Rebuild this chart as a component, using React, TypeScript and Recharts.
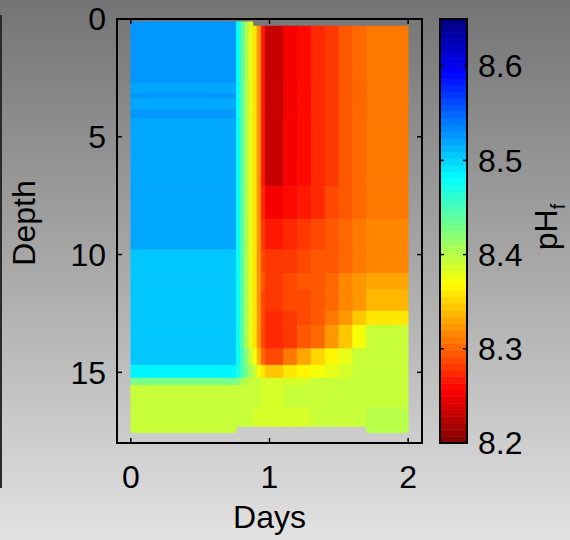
import { ComposedChart, XAxis, YAxis, ReferenceArea, ReferenceLine, Label } from 'recharts'

// cell edges of the pcolor grid
const DAY_EDGES = [0, 0.76, 0.79, 0.82, 0.85, 0.88, 0.91, 0.94, 0.97, 1.1, 1.2, 1.3, 1.4, 1.5, 1.6, 1.7, 2.0]
const DEPTH_EDGES = [
  0.12, 0.3, 2.73, 3.16, 3.37, 3.87, 4.22, 7.1, 8.5, 9.8, 10.8, 11.5, 12.4, 13.0, 14.0, 14.7, 15.25, 15.55,
  16.5, 17.3, 17.56,
]

// pH per cell, one row per depth band (null = no data)
const PH_GRID: (number | null)[][] = [
  [8.527, 8.475, 8.44, 8.41, 8.38, null, null, null, null, null, null, null, null, null, null, null],
  [8.527, 8.475, 8.44, 8.41, 8.38, 8.36, 8.32, 8.27, 8.235, 8.25, 8.262, 8.273, 8.283, 8.295, 8.305, 8.312],
  [8.52, 8.475, 8.44, 8.41, 8.38, 8.36, 8.32, 8.27, 8.235, 8.25, 8.262, 8.273, 8.283, 8.295, 8.305, 8.312],
  [8.527, 8.475, 8.44, 8.41, 8.38, 8.36, 8.32, 8.27, 8.235, 8.25, 8.262, 8.273, 8.283, 8.295, 8.305, 8.312],
  [8.52, 8.475, 8.44, 8.41, 8.38, 8.36, 8.32, 8.27, 8.235, 8.25, 8.262, 8.273, 8.283, 8.295, 8.305, 8.312],
  [8.527, 8.475, 8.44, 8.41, 8.38, 8.36, 8.32, 8.27, 8.235, 8.25, 8.262, 8.273, 8.283, 8.295, 8.305, 8.312],
  [8.518, 8.475, 8.44, 8.41, 8.38, 8.36, 8.32, 8.27, 8.235, 8.25, 8.262, 8.273, 8.283, 8.295, 8.305, 8.312],
  [8.518, 8.475, 8.44, 8.41, 8.38, 8.36, 8.32, 8.275, 8.25, 8.258, 8.265, 8.275, 8.285, 8.295, 8.305, 8.312],
  [8.518, 8.475, 8.44, 8.41, 8.38, 8.36, 8.32, 8.28, 8.268, 8.273, 8.279, 8.285, 8.292, 8.3, 8.307, 8.313],
  [8.507, 8.475, 8.44, 8.41, 8.38, 8.36, 8.325, 8.29, 8.278, 8.282, 8.287, 8.292, 8.297, 8.303, 8.31, 8.315],
  [8.507, 8.475, 8.44, 8.41, 8.38, 8.36, 8.325, 8.295, 8.283, 8.287, 8.292, 8.297, 8.305, 8.315, 8.325, 8.33],
  [8.507, 8.475, 8.44, 8.41, 8.38, 8.36, 8.325, 8.29, 8.28, 8.285, 8.29, 8.298, 8.305, 8.315, 8.325, 8.337],
  [8.507, 8.475, 8.44, 8.41, 8.38, 8.36, 8.32, 8.285, 8.276, 8.28, 8.288, 8.298, 8.31, 8.325, 8.345, 8.36],
  [8.507, 8.475, 8.44, 8.41, 8.38, 8.36, 8.32, 8.285, 8.276, 8.282, 8.292, 8.305, 8.32, 8.345, 8.37, 8.39],
  [8.505, 8.48, 8.45, 8.42, 8.395, 8.37, 8.34, 8.3, 8.285, 8.31, 8.33, 8.35, 8.368, 8.38, 8.39, 8.393],
  [8.485, 8.47, 8.45, 8.43, 8.41, 8.39, 8.37, 8.355, 8.345, 8.357, 8.364, 8.372, 8.382, 8.388, 8.392, 8.393],
  [8.43, 8.42, 8.41, 8.4, 8.395, 8.392, 8.39, 8.386, 8.384, 8.386, 8.389, 8.391, 8.392, 8.393, 8.393, 8.393],
  [8.395, 8.394, 8.393, 8.392, 8.391, 8.39, 8.39, 8.389, 8.389, 8.39, 8.391, 8.392, 8.393, 8.393, 8.393, 8.395],
  [8.395, 8.393, 8.392, 8.391, 8.39, 8.389, 8.388, 8.387, 8.386, 8.387, 8.389, 8.391, 8.393, 8.393, 8.395, 8.397],
  [8.395, null, null, null, null, null, null, null, null, null, null, null, null, null, null, 8.397],
]

const DAY_TICKS = [0, 1, 2]
const DEPTH_TICKS = [0, 5, 10, 15]
const PH_TICKS = [8.2, 8.3, 8.4, 8.5, 8.6]

const X_DOMAIN = [-0.1, 2.1]
const Y_DOMAIN = [0, 18]
const PH_MIN = 8.2
const PH_MAX = 8.65
const LEVELS = 64

const FONT = '"Liberation Sans", Arial, Helvetica, sans-serif'
const FS = 32

// flipped jet: high pH -> blue, low pH -> dark red
function jet(v: number) {
  const t0 = (PH_MAX - v) / (PH_MAX - PH_MIN)
  const k = Math.min(LEVELS - 1, Math.max(0, Math.floor(t0 * LEVELS)))
  const t = (k + 0.5) / LEVELS
  const c = (a: number) => Math.round(255 * Math.min(1, Math.max(0, a)))
  const r = c(Math.min(4 * t - 1.5, -4 * t + 4.5))
  const g = c(Math.min(4 * t - 0.5, -4 * t + 3.5))
  const b = c(Math.min(4 * t + 0.5, -4 * t + 2.5))
  return `rgb(${r},${g},${b})`
}

const cells: { x1: number; x2: number; y1: number; y2: number; v: number }[] = []
PH_GRID.forEach((row, i) =>
  row.forEach((v, j) => {
    if (v == null) return
    cells.push({ x1: DAY_EDGES[j], x2: DAY_EDGES[j + 1], y1: DEPTH_EDGES[i], y2: DEPTH_EDGES[i + 1], v })
  })
)

const barLevels = Array.from({ length: LEVELS }, (_, k) => ({
  lo: PH_MIN + (k * (PH_MAX - PH_MIN)) / LEVELS,
  hi: PH_MIN + ((k + 1) * (PH_MAX - PH_MIN)) / LEVELS,
}))

// inward tick length (~5px) in data units
const TICK_DX = (5 * (X_DOMAIN[1] - X_DOMAIN[0])) / 305
const TICK_DY = (5 * (Y_DOMAIN[1] - Y_DOMAIN[0])) / 424

const tickStyle = { fill: '#000', fontSize: FS, fontFamily: FONT }

export default function App() {
  return (
    <div
      style={{
        position: 'absolute',
        left: 0,
        top: 0,
        width: 570,
        height: 540,
        overflow: 'hidden',
        fontFamily: FONT,
        background: 'linear-gradient(to bottom, #747474 0%, #a9a9a9 50%, #e2e2e2 100%)',
      }}
    >
      <div style={{ position: 'absolute', left: 0, top: 15, width: 1.5, height: 473, background: '#2a2a2a' }} />

      <div style={{ position: 'absolute', left: 0, top: 0 }}>
        <ComposedChart width={570} height={540} margin={{ top: 19, right: 148, bottom: 0, left: 0 }}>
          <XAxis
            type="number"
            dataKey="x"
            domain={X_DOMAIN}
            ticks={DAY_TICKS}
            allowDataOverflow
            height={97}
            axisLine={false}
            tickLine={false}
            tickSize={0}
            tickMargin={22}
            tick={tickStyle}
          >
            <Label value="Days" position="insideBottom" offset={12} style={{ fill: '#000', fontSize: FS, fontFamily: FONT }} />
          </XAxis>
          <YAxis
            type="number"
            dataKey="y"
            domain={Y_DOMAIN}
            ticks={DEPTH_TICKS}
            reversed
            allowDataOverflow
            width={117}
            axisLine={false}
            tickLine={false}
            tickSize={0}
            tickMargin={11}
            tick={tickStyle}
          >
            <Label
              content={(p: any) => {
                const vb = p.viewBox || { x: 0, y: 19, height: 424 }
                const cx = vb.x + 24
                const cy = vb.y + vb.height / 2 - 8
                return (
                  <text
                    x={cx}
                    y={cy}
                    transform={`rotate(-90 ${cx} ${cy})`}
                    textAnchor="middle"
                    dominantBaseline="central"
                    fontSize={FS}
                    fontFamily={FONT}
                    fill="#000"
                  >
                    Depth
                  </text>
                )
              }}
            />
          </YAxis>

          {cells.map((c, i) => (
            <ReferenceArea
              key={'c' + i}
              x1={c.x1}
              x2={c.x2}
              y1={c.y1}
              y2={c.y2}
              fill={jet(c.v)}
              fillOpacity={1}
              stroke={jet(c.v)}
              strokeWidth={0.6}
              ifOverflow="visible"
            />
          ))}

          <ReferenceArea
            x1={X_DOMAIN[0]}
            x2={X_DOMAIN[1]}
            y1={Y_DOMAIN[0]}
            y2={Y_DOMAIN[1]}
            fill="none"
            stroke="#000"
            strokeWidth={2}
            ifOverflow="visible"
          />

          {DAY_TICKS.map((d) => (
            <ReferenceLine
              key={'xb' + d}
              segment={[{ x: d, y: Y_DOMAIN[1] }, { x: d, y: Y_DOMAIN[1] - TICK_DY }]}
              stroke="#000"
              strokeWidth={1.5}
              ifOverflow="visible"
            />
          ))}
          {DAY_TICKS.map((d) => (
            <ReferenceLine
              key={'xt' + d}
              segment={[{ x: d, y: Y_DOMAIN[0] }, { x: d, y: Y_DOMAIN[0] + TICK_DY }]}
              stroke="#000"
              strokeWidth={1.5}
              ifOverflow="visible"
            />
          ))}
          {DEPTH_TICKS.slice(1).map((d) => (
            <ReferenceLine
              key={'yl' + d}
              segment={[{ x: X_DOMAIN[0], y: d }, { x: X_DOMAIN[0] + TICK_DX, y: d }]}
              stroke="#000"
              strokeWidth={1.5}
              ifOverflow="visible"
            />
          ))}
          {DEPTH_TICKS.slice(1).map((d) => (
            <ReferenceLine
              key={'yr' + d}
              segment={[{ x: X_DOMAIN[1], y: d }, { x: X_DOMAIN[1] - TICK_DX, y: d }]}
              stroke="#000"
              strokeWidth={1.5}
              ifOverflow="visible"
            />
          ))}
        </ComposedChart>
      </div>

      <div style={{ position: 'absolute', left: 0, top: 0 }}>
        <ComposedChart width={570} height={540} margin={{ top: 19, right: 0, bottom: 97, left: 440 }}>
          <XAxis type="number" dataKey="x" domain={[0, 1]} hide allowDataOverflow />
          <YAxis
            type="number"
            dataKey="y"
            orientation="right"
            domain={[PH_MIN, PH_MAX]}
            ticks={PH_TICKS}
            allowDataOverflow
            width={103}
            axisLine={false}
            tickLine={false}
            tickSize={0}
            tickMargin={11}
            tick={tickStyle}
            tickFormatter={(v: number) => v.toFixed(1)}
          >
            <Label
              content={(p: any) => {
                const vb = p.viewBox || { x: 467, y: 19, height: 424 }
                const cx = vb.x + 90
                const cy = vb.y + vb.height / 2 - 4
                return (
                  <text
                    x={cx}
                    y={cy}
                    transform={`rotate(-90 ${cx} ${cy})`}
                    textAnchor="middle"
                    fontSize={FS}
                    fontFamily={FONT}
                    fill="#000"
                  >
                    pH
                    <tspan dy={8} fontSize={20}>
                      f
                    </tspan>
                  </text>
                )
              }}
            />
          </YAxis>

          {barLevels.map((l, k) => (
            <ReferenceArea
              key={'b' + k}
              x1={0}
              x2={1}
              y1={l.lo}
              y2={l.hi}
              fill={jet((l.lo + l.hi) / 2)}
              fillOpacity={1}
              stroke={jet((l.lo + l.hi) / 2)}
              strokeWidth={0.5}
              ifOverflow="visible"
            />
          ))}
          <ReferenceArea
            x1={0}
            x2={1}
            y1={PH_MIN}
            y2={PH_MAX}
            fill="none"
            stroke="#000"
            strokeWidth={2}
            ifOverflow="visible"
          />
          {PH_TICKS.slice(1).map((v) => (
            <ReferenceLine
              key={'cl' + v}
              segment={[{ x: 0, y: v }, { x: 0.15, y: v }]}
              stroke="#000"
              strokeWidth={1.5}
              ifOverflow="visible"
            />
          ))}
          {PH_TICKS.slice(1).map((v) => (
            <ReferenceLine
              key={'cr' + v}
              segment={[{ x: 1, y: v }, { x: 0.85, y: v }]}
              stroke="#000"
              strokeWidth={1.5}
              ifOverflow="visible"
            />
          ))}
        </ComposedChart>
      </div>
    </div>
  )
}
